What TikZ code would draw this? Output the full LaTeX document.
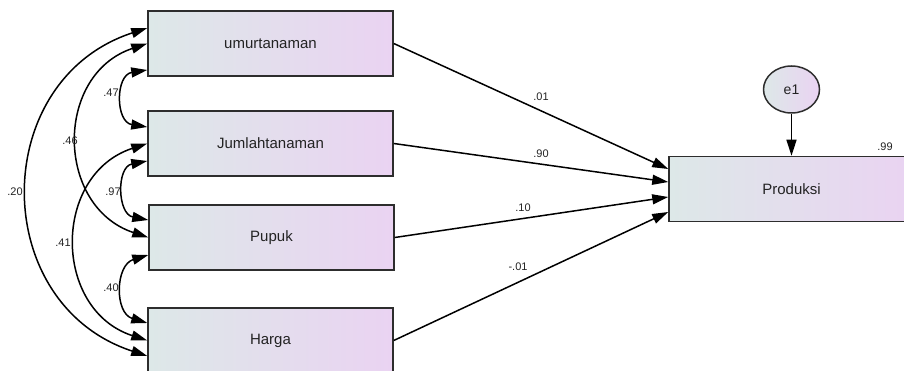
\documentclass[tikz,border=0pt]{standalone}
\usepackage{fontspec}
\setmainfont{Liberation Sans}
\usetikzlibrary{arrows.meta,shapes.geometric}
\definecolor{boxL}{RGB}{221,232,232}
\definecolor{boxR}{RGB}{234,211,242}
\definecolor{edgecol}{RGB}{45,45,45}
\definecolor{txtcol}{RGB}{35,35,35}
\begin{document}
\begin{tikzpicture}[x=1pt,y=-1pt,
  var/.style={draw=edgecol, line width=1.5pt, left color=boxL, right color=boxR,
    minimum width=245pt, minimum height=65pt, inner sep=0pt,
    font=\fontsize{15}{18}\selectfont, text=txtcol},
  errv/.style={ellipse, draw=edgecol, line width=1.5pt, left color=boxL, right color=boxR,
    minimum width=56pt, minimum height=47pt, inner sep=0pt,
    font=\fontsize{14}{17}\selectfont, text=txtcol},
  lab/.style={font=\fontsize{11}{13}\selectfont, text=txtcol, inner sep=0pt},
  pathar/.style={-{Triangle[length=16pt,width=10pt]}, line width=1.5pt, draw=black},
  covar/.style={{Triangle[length=16pt,width=10pt]}-{Triangle[length=16pt,width=10pt]}, line width=1.5pt, draw=black}]
\fill[white] (0,0) rectangle (904,371);
\useasboundingbox (0,0) rectangle (904,371);
% variables
\node[var] (u)  at (270.5,43.5)  {umurtanaman};
\node[var] (j)  at (270.5,143.5) {Jumlahtanaman};
\node[var] (pu) at (271.5,237.5) {Pupuk};
\node[var] (h)  at (270.5,340.5) {Harga};
\node[var] (p)  at (791.5,189)   {Produksi};
\node[errv] (e) at (791.5,89.5)  {e1};
% error arrow
\draw[pathar] (e.south) -- (p.north);
% regression paths
\draw[pathar] (u.east)  -- ([yshift=20pt]p.west);
\draw[pathar] (j.east)  -- ([yshift=7pt]p.west);
\draw[pathar] (pu.east) -- ([yshift=-8pt]p.west);
\draw[pathar] (h.east)  -- ([yshift=-23pt]p.west);
% covariances
\draw[covar] ([yshift=15.5pt]u.west) .. controls +(-159,52) and +(-159,-52) .. ([yshift=-15.5pt]h.west);
\draw[covar] (u.west) .. controls +(-93,31) and +(-93,-31) .. (pu.west);
\draw[covar] ([yshift=-26.5pt]u.west) .. controls +(-32,5) and +(-32,-5) .. ([yshift=16.5pt]j.west);
\draw[covar] (j.west) .. controls +(-95,31) and +(-95,-31) .. (h.west);
\draw[covar] ([yshift=-17.5pt]j.west) .. controls +(-31,6) and +(-31,-6) .. ([yshift=17.5pt]pu.west);
\draw[covar] ([yshift=-17.5pt]pu.west) .. controls +(-33,10) and +(-33,-10) .. ([yshift=17.5pt]h.west);
% labels
\node[lab] (l1) at (541,97)  {.01};
\node[lab] (l2) at (541,154) {.90};
\node[lab] (l3) at (523,208) {.10};
\node[lab] (l4) at (518,267) {-.01};
\node[lab] (l5) at (885,147) {.99};
\node[lab] (c1) at (15,192)  {.20};
\node[lab] (c2) at (70,141)  {.46};
\node[lab] (c3) at (111,93)  {.47};
\node[lab] (c4) at (63,243)  {.41};
\node[lab] (c5) at (113,192) {.97};
\node[lab] (c6) at (111,288) {.40};
\end{tikzpicture}
\end{document}
